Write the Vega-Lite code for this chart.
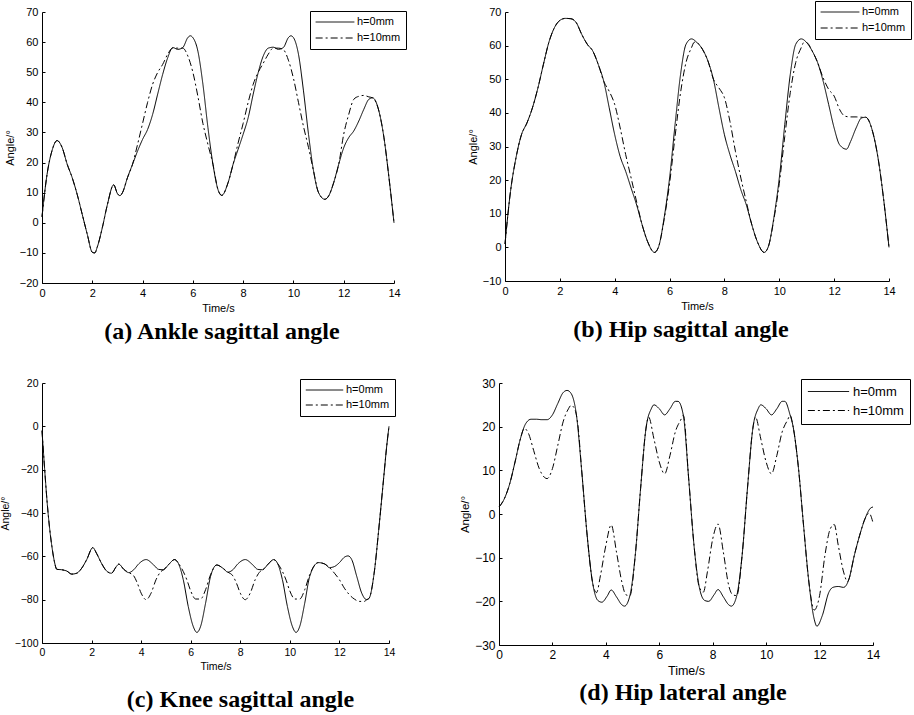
{
  "$schema": "https://vega.github.io/schema/vega-lite/v6.json",
  "background": "white",
  "padding": {"left": 0, "top": 0, "right": 0, "bottom": 0},
  "config": {
    "view": {"stroke": null},
    "axis": {"domainColor": "black", "tickColor": "black", "labelColor": "black", "titleColor": "black", "labelFont": "Liberation Sans", "titleFont": "Liberation Sans", "grid": false, "tickSize": -3, "labelFontSize": 11, "titleFontSize": 11, "titleFontWeight": "normal", "domainWidth": 1, "tickWidth": 1, "labelPadding": 7, "titlePadding": 4, "labelFlush": false, "labelOverlap": false},
    "legend": {"title": null, "strokeColor": "black", "fillColor": "white", "padding": 5, "symbolType": "stroke", "symbolSize": 1500, "symbolStrokeWidth": 1, "symbolStrokeColor": "black", "labelFont": "Liberation Sans", "labelFontSize": 11, "labelColor": "black", "labelOffset": 2, "rowPadding": 4, "clipHeight": 12},
    "title": {"font": "Liberation Serif", "fontSize": 24, "fontWeight": "bold", "color": "black", "orient": "bottom", "frame": "group", "anchor": "middle"}
  },
  "resolve": {"scale": {"strokeDash": "independent"}, "legend": {"strokeDash": "independent"}},
  "spacing": 33,
  "datasets": {
    "a": [
      {"s":"h=0mm","t":0,"v":2},{"s":"h=0mm","t":0.2,"v":16},{"s":"h=0mm","t":0.4,"v":24},{"s":"h=0mm","t":0.6,"v":27.3},{"s":"h=0mm","t":0.8,"v":25},{"s":"h=0mm","t":1,"v":19.5},{"s":"h=0mm","t":1.2,"v":15},{"s":"h=0mm","t":1.4,"v":9.4},{"s":"h=0mm","t":1.6,"v":2.8},{"s":"h=0mm","t":1.8,"v":-3.8},{"s":"h=0mm","t":2,"v":-9.8},{"s":"h=0mm","t":2.1,"v":-10},{"s":"h=0mm","t":2.2,"v":-8},{"s":"h=0mm","t":2.4,"v":-1.6},{"s":"h=0mm","t":2.6,"v":6},{"s":"h=0mm","t":2.85,"v":12.6},{"s":"h=0mm","t":3,"v":9.7},{"s":"h=0mm","t":3.1,"v":9},{"s":"h=0mm","t":3.2,"v":10},{"s":"h=0mm","t":3.4,"v":15},{"s":"h=0mm","t":3.6,"v":19.4},{"s":"h=0mm","t":3.8,"v":23.8},{"s":"h=0mm","t":4,"v":27.7},{"s":"h=0mm","t":4.2,"v":31},{"s":"h=0mm","t":4.4,"v":36},{"s":"h=0mm","t":4.6,"v":42.7},{"s":"h=0mm","t":4.8,"v":49.3},{"s":"h=0mm","t":5,"v":54.8},{"s":"h=0mm","t":5.2,"v":58.2},{"s":"h=0mm","t":5.4,"v":57.6},{"s":"h=0mm","t":5.6,"v":58.2},{"s":"h=0mm","t":5.8,"v":61.5},{"s":"h=0mm","t":5.9,"v":62.1},{"s":"h=0mm","t":6,"v":61.5},{"s":"h=0mm","t":6.2,"v":57},{"s":"h=0mm","t":6.4,"v":46},{"s":"h=0mm","t":6.6,"v":31.6},{"s":"h=0mm","t":6.8,"v":19.4},{"s":"h=0mm","t":7,"v":11},{"s":"h=0mm","t":7.15,"v":9.1},{"s":"h=0mm","t":7.4,"v":13.3},{"s":"h=0mm","t":7.6,"v":19.4},{"s":"h=0mm","t":7.8,"v":24.4},{"s":"h=0mm","t":8,"v":29.4},{"s":"h=0mm","t":8.2,"v":34.9},{"s":"h=0mm","t":8.4,"v":42.7},{"s":"h=0mm","t":8.6,"v":49.9},{"s":"h=0mm","t":8.8,"v":55.4},{"s":"h=0mm","t":9,"v":58},{"s":"h=0mm","t":9.2,"v":58.3},{"s":"h=0mm","t":9.4,"v":57.6},{"s":"h=0mm","t":9.6,"v":58.2},{"s":"h=0mm","t":9.8,"v":61.5},{"s":"h=0mm","t":9.9,"v":62.1},{"s":"h=0mm","t":10,"v":61.5},{"s":"h=0mm","t":10.2,"v":56},{"s":"h=0mm","t":10.4,"v":43.8},{"s":"h=0mm","t":10.6,"v":29.4},{"s":"h=0mm","t":10.8,"v":17.2},{"s":"h=0mm","t":11,"v":10},{"s":"h=0mm","t":11.25,"v":7.8},{"s":"h=0mm","t":11.4,"v":8.9},{"s":"h=0mm","t":11.6,"v":13.3},{"s":"h=0mm","t":11.8,"v":19.4},{"s":"h=0mm","t":12,"v":24.9},{"s":"h=0mm","t":12.2,"v":28.3},{"s":"h=0mm","t":12.4,"v":30.5},{"s":"h=0mm","t":12.6,"v":33.8},{"s":"h=0mm","t":12.8,"v":37.7},{"s":"h=0mm","t":13,"v":41},{"s":"h=0mm","t":13.15,"v":41.5},{"s":"h=0mm","t":13.4,"v":37.1},{"s":"h=0mm","t":13.6,"v":28.3},{"s":"h=0mm","t":13.8,"v":15},{"s":"h=0mm","t":14,"v":0},
      {"s":"h=10mm","t":0,"v":2},{"s":"h=10mm","t":0.2,"v":16},{"s":"h=10mm","t":0.4,"v":24},{"s":"h=10mm","t":0.6,"v":27.3},{"s":"h=10mm","t":0.8,"v":25},{"s":"h=10mm","t":1,"v":19.5},{"s":"h=10mm","t":1.2,"v":15},{"s":"h=10mm","t":1.4,"v":9.4},{"s":"h=10mm","t":1.6,"v":2.8},{"s":"h=10mm","t":1.8,"v":-3.8},{"s":"h=10mm","t":2,"v":-9.8},{"s":"h=10mm","t":2.1,"v":-10},{"s":"h=10mm","t":2.2,"v":-8},{"s":"h=10mm","t":2.4,"v":-1.6},{"s":"h=10mm","t":2.6,"v":6},{"s":"h=10mm","t":2.85,"v":12.6},{"s":"h=10mm","t":3,"v":9.7},{"s":"h=10mm","t":3.1,"v":9},{"s":"h=10mm","t":3.2,"v":10},{"s":"h=10mm","t":3.4,"v":15},{"s":"h=10mm","t":3.6,"v":19.4},{"s":"h=10mm","t":3.8,"v":26},{"s":"h=10mm","t":4,"v":33},{"s":"h=10mm","t":4.2,"v":40},{"s":"h=10mm","t":4.4,"v":46},{"s":"h=10mm","t":4.6,"v":49.9},{"s":"h=10mm","t":4.8,"v":52.6},{"s":"h=10mm","t":5,"v":56},{"s":"h=10mm","t":5.2,"v":58},{"s":"h=10mm","t":5.4,"v":58},{"s":"h=10mm","t":5.6,"v":58},{"s":"h=10mm","t":5.8,"v":55.4},{"s":"h=10mm","t":6,"v":50},{"s":"h=10mm","t":6.2,"v":42},{"s":"h=10mm","t":6.4,"v":33},{"s":"h=10mm","t":6.6,"v":26},{"s":"h=10mm","t":6.8,"v":19.4},{"s":"h=10mm","t":7,"v":11},{"s":"h=10mm","t":7.15,"v":9.1},{"s":"h=10mm","t":7.4,"v":13.3},{"s":"h=10mm","t":7.6,"v":19.4},{"s":"h=10mm","t":7.8,"v":26.5},{"s":"h=10mm","t":8,"v":33},{"s":"h=10mm","t":8.2,"v":40},{"s":"h=10mm","t":8.4,"v":46},{"s":"h=10mm","t":8.6,"v":50},{"s":"h=10mm","t":8.8,"v":53},{"s":"h=10mm","t":9,"v":56},{"s":"h=10mm","t":9.2,"v":58},{"s":"h=10mm","t":9.4,"v":58},{"s":"h=10mm","t":9.6,"v":57.5},{"s":"h=10mm","t":9.8,"v":54},{"s":"h=10mm","t":10,"v":48},{"s":"h=10mm","t":10.2,"v":40},{"s":"h=10mm","t":10.4,"v":32},{"s":"h=10mm","t":10.6,"v":25},{"s":"h=10mm","t":10.8,"v":17.2},{"s":"h=10mm","t":11,"v":10},{"s":"h=10mm","t":11.25,"v":7.8},{"s":"h=10mm","t":11.4,"v":8.9},{"s":"h=10mm","t":11.6,"v":13.3},{"s":"h=10mm","t":11.8,"v":19.4},{"s":"h=10mm","t":12,"v":29.4},{"s":"h=10mm","t":12.2,"v":36},{"s":"h=10mm","t":12.4,"v":41},{"s":"h=10mm","t":12.6,"v":42},{"s":"h=10mm","t":12.8,"v":42.3},{"s":"h=10mm","t":13,"v":41.8},{"s":"h=10mm","t":13.15,"v":41.5},{"s":"h=10mm","t":13.4,"v":37.1},{"s":"h=10mm","t":13.6,"v":28.3},{"s":"h=10mm","t":13.8,"v":15},{"s":"h=10mm","t":14,"v":0}
    ],
    "b": [
      {"s":"h=0mm","t":0,"v":1},{"s":"h=0mm","t":0.2,"v":16.6},{"s":"h=0mm","t":0.4,"v":26.6},{"s":"h=0mm","t":0.6,"v":33.5},{"s":"h=0mm","t":0.8,"v":37},{"s":"h=0mm","t":1,"v":41.5},{"s":"h=0mm","t":1.2,"v":47.4},{"s":"h=0mm","t":1.4,"v":54.4},{"s":"h=0mm","t":1.6,"v":61},{"s":"h=0mm","t":1.8,"v":65.3},{"s":"h=0mm","t":2,"v":67.5},{"s":"h=0mm","t":2.2,"v":68.1},{"s":"h=0mm","t":2.4,"v":68},{"s":"h=0mm","t":2.6,"v":66.8},{"s":"h=0mm","t":2.8,"v":63.3},{"s":"h=0mm","t":3,"v":60.4},{"s":"h=0mm","t":3.2,"v":58.4},{"s":"h=0mm","t":3.4,"v":54.4},{"s":"h=0mm","t":3.6,"v":49.4},{"s":"h=0mm","t":3.8,"v":41.5},{"s":"h=0mm","t":4,"v":33.5},{"s":"h=0mm","t":4.2,"v":27},{"s":"h=0mm","t":4.4,"v":22.6},{"s":"h=0mm","t":4.6,"v":17.6},{"s":"h=0mm","t":4.8,"v":12.6},{"s":"h=0mm","t":5,"v":6.7},{"s":"h=0mm","t":5.2,"v":1.7},{"s":"h=0mm","t":5.45,"v":-1.5},{"s":"h=0mm","t":5.6,"v":0.2},{"s":"h=0mm","t":5.8,"v":8.7},{"s":"h=0mm","t":6,"v":20.6},{"s":"h=0mm","t":6.2,"v":36.5},{"s":"h=0mm","t":6.4,"v":51.4},{"s":"h=0mm","t":6.6,"v":60.4},{"s":"h=0mm","t":6.8,"v":62},{"s":"h=0mm","t":7,"v":60.9},{"s":"h=0mm","t":7.2,"v":58.9},{"s":"h=0mm","t":7.4,"v":55.4},{"s":"h=0mm","t":7.6,"v":49.9},{"s":"h=0mm","t":7.8,"v":41.5},{"s":"h=0mm","t":8,"v":33.5},{"s":"h=0mm","t":8.2,"v":27.6},{"s":"h=0mm","t":8.4,"v":22.6},{"s":"h=0mm","t":8.6,"v":17.1},{"s":"h=0mm","t":8.8,"v":12.6},{"s":"h=0mm","t":9,"v":6.7},{"s":"h=0mm","t":9.2,"v":1.7},{"s":"h=0mm","t":9.45,"v":-1.5},{"s":"h=0mm","t":9.6,"v":0.2},{"s":"h=0mm","t":9.8,"v":8.7},{"s":"h=0mm","t":10,"v":20.6},{"s":"h=0mm","t":10.2,"v":36.5},{"s":"h=0mm","t":10.4,"v":51.4},{"s":"h=0mm","t":10.6,"v":60.4},{"s":"h=0mm","t":10.8,"v":62},{"s":"h=0mm","t":11,"v":60.9},{"s":"h=0mm","t":11.2,"v":58.4},{"s":"h=0mm","t":11.4,"v":54.9},{"s":"h=0mm","t":11.6,"v":49.4},{"s":"h=0mm","t":11.8,"v":42.5},{"s":"h=0mm","t":12,"v":35.5},{"s":"h=0mm","t":12.2,"v":30.5},{"s":"h=0mm","t":12.45,"v":29.2},{"s":"h=0mm","t":12.6,"v":31.5},{"s":"h=0mm","t":12.8,"v":35.5},{"s":"h=0mm","t":13,"v":38.5},{"s":"h=0mm","t":13.15,"v":38.7},{"s":"h=0mm","t":13.4,"v":34.5},{"s":"h=0mm","t":13.6,"v":26.6},{"s":"h=0mm","t":13.8,"v":14.6},{"s":"h=0mm","t":14,"v":0},
      {"s":"h=10mm","t":0,"v":1},{"s":"h=10mm","t":0.2,"v":16.6},{"s":"h=10mm","t":0.4,"v":26.6},{"s":"h=10mm","t":0.6,"v":33.5},{"s":"h=10mm","t":0.8,"v":37},{"s":"h=10mm","t":1,"v":41.5},{"s":"h=10mm","t":1.2,"v":47.4},{"s":"h=10mm","t":1.4,"v":54.4},{"s":"h=10mm","t":1.6,"v":61},{"s":"h=10mm","t":1.8,"v":65.3},{"s":"h=10mm","t":2,"v":67.5},{"s":"h=10mm","t":2.2,"v":68.1},{"s":"h=10mm","t":2.4,"v":68},{"s":"h=10mm","t":2.6,"v":66.8},{"s":"h=10mm","t":2.8,"v":63.3},{"s":"h=10mm","t":3,"v":60.4},{"s":"h=10mm","t":3.2,"v":58.4},{"s":"h=10mm","t":3.4,"v":54.4},{"s":"h=10mm","t":3.6,"v":49.4},{"s":"h=10mm","t":3.8,"v":46.4},{"s":"h=10mm","t":4,"v":42.5},{"s":"h=10mm","t":4.2,"v":35.5},{"s":"h=10mm","t":4.4,"v":27.6},{"s":"h=10mm","t":4.6,"v":20.6},{"s":"h=10mm","t":4.8,"v":13.5},{"s":"h=10mm","t":5,"v":6.7},{"s":"h=10mm","t":5.2,"v":1.7},{"s":"h=10mm","t":5.45,"v":-1.5},{"s":"h=10mm","t":5.6,"v":0.2},{"s":"h=10mm","t":5.8,"v":8.2},{"s":"h=10mm","t":6,"v":19},{"s":"h=10mm","t":6.2,"v":33},{"s":"h=10mm","t":6.4,"v":46},{"s":"h=10mm","t":6.6,"v":55},{"s":"h=10mm","t":6.8,"v":59.4},{"s":"h=10mm","t":6.9,"v":61},{"s":"h=10mm","t":7,"v":60.9},{"s":"h=10mm","t":7.2,"v":58.9},{"s":"h=10mm","t":7.4,"v":55.4},{"s":"h=10mm","t":7.6,"v":50},{"s":"h=10mm","t":7.8,"v":47.4},{"s":"h=10mm","t":8,"v":44.5},{"s":"h=10mm","t":8.2,"v":37.5},{"s":"h=10mm","t":8.4,"v":28.6},{"s":"h=10mm","t":8.6,"v":20.6},{"s":"h=10mm","t":8.8,"v":13.5},{"s":"h=10mm","t":9,"v":6.7},{"s":"h=10mm","t":9.2,"v":1.7},{"s":"h=10mm","t":9.45,"v":-1.5},{"s":"h=10mm","t":9.6,"v":0.2},{"s":"h=10mm","t":9.8,"v":8.2},{"s":"h=10mm","t":10,"v":19},{"s":"h=10mm","t":10.2,"v":33},{"s":"h=10mm","t":10.4,"v":46},{"s":"h=10mm","t":10.6,"v":55},{"s":"h=10mm","t":10.8,"v":59.4},{"s":"h=10mm","t":10.9,"v":61},{"s":"h=10mm","t":11,"v":60.9},{"s":"h=10mm","t":11.2,"v":58.4},{"s":"h=10mm","t":11.4,"v":54.9},{"s":"h=10mm","t":11.6,"v":50.4},{"s":"h=10mm","t":11.8,"v":47},{"s":"h=10mm","t":12,"v":45},{"s":"h=10mm","t":12.2,"v":41},{"s":"h=10mm","t":12.4,"v":39},{"s":"h=10mm","t":12.6,"v":38.8},{"s":"h=10mm","t":12.8,"v":38.8},{"s":"h=10mm","t":13,"v":38.7},{"s":"h=10mm","t":13.15,"v":38.7},{"s":"h=10mm","t":13.4,"v":34.5},{"s":"h=10mm","t":13.6,"v":26.6},{"s":"h=10mm","t":13.8,"v":14.6},{"s":"h=10mm","t":14,"v":0}
    ],
    "c": [
      {"s":"h=0mm","t":0,"v":-2},{"s":"h=0mm","t":0.1,"v":-18.7},{"s":"h=0mm","t":0.2,"v":-34},{"s":"h=0mm","t":0.3,"v":-46.3},{"s":"h=0mm","t":0.4,"v":-55.5},{"s":"h=0mm","t":0.5,"v":-62.4},{"s":"h=0mm","t":0.6,"v":-66},{"s":"h=0mm","t":0.8,"v":-66.2},{"s":"h=0mm","t":1,"v":-66.8},{"s":"h=0mm","t":1.2,"v":-68.2},{"s":"h=0mm","t":1.4,"v":-67.8},{"s":"h=0mm","t":1.6,"v":-65.5},{"s":"h=0mm","t":1.8,"v":-61.6},{"s":"h=0mm","t":2.05,"v":-56},{"s":"h=0mm","t":2.2,"v":-58.6},{"s":"h=0mm","t":2.4,"v":-63.2},{"s":"h=0mm","t":2.6,"v":-66.7},{"s":"h=0mm","t":2.8,"v":-67.8},{"s":"h=0mm","t":3,"v":-64.7},{"s":"h=0mm","t":3.1,"v":-63.6},{"s":"h=0mm","t":3.3,"v":-66},{"s":"h=0mm","t":3.5,"v":-67.5},{"s":"h=0mm","t":3.7,"v":-66.2},{"s":"h=0mm","t":3.9,"v":-63.5},{"s":"h=0mm","t":4.2,"v":-61.5},{"s":"h=0mm","t":4.5,"v":-63.9},{"s":"h=0mm","t":4.7,"v":-66},{"s":"h=0mm","t":4.9,"v":-66.2},{"s":"h=0mm","t":5.1,"v":-63.9},{"s":"h=0mm","t":5.35,"v":-61.5},{"s":"h=0mm","t":5.5,"v":-63.2},{"s":"h=0mm","t":5.7,"v":-70.8},{"s":"h=0mm","t":5.9,"v":-83.1},{"s":"h=0mm","t":6.1,"v":-92.3},{"s":"h=0mm","t":6.25,"v":-95.1},{"s":"h=0mm","t":6.4,"v":-92.3},{"s":"h=0mm","t":6.6,"v":-81.6},{"s":"h=0mm","t":6.8,"v":-69.3},{"s":"h=0mm","t":7.05,"v":-64},{"s":"h=0mm","t":7.3,"v":-65.5},{"s":"h=0mm","t":7.5,"v":-67.3},{"s":"h=0mm","t":7.7,"v":-66.2},{"s":"h=0mm","t":7.9,"v":-63.5},{"s":"h=0mm","t":8.2,"v":-61.5},{"s":"h=0mm","t":8.5,"v":-63.9},{"s":"h=0mm","t":8.7,"v":-66},{"s":"h=0mm","t":8.9,"v":-66.2},{"s":"h=0mm","t":9.1,"v":-63.9},{"s":"h=0mm","t":9.35,"v":-61.5},{"s":"h=0mm","t":9.5,"v":-63.2},{"s":"h=0mm","t":9.7,"v":-70.8},{"s":"h=0mm","t":9.9,"v":-83.1},{"s":"h=0mm","t":10.1,"v":-92.3},{"s":"h=0mm","t":10.25,"v":-95.1},{"s":"h=0mm","t":10.4,"v":-92.3},{"s":"h=0mm","t":10.6,"v":-81.6},{"s":"h=0mm","t":10.8,"v":-69.3},{"s":"h=0mm","t":11.15,"v":-62.9},{"s":"h=0mm","t":11.4,"v":-63.5},{"s":"h=0mm","t":11.6,"v":-65.2},{"s":"h=0mm","t":11.8,"v":-64.7},{"s":"h=0mm","t":12,"v":-62.9},{"s":"h=0mm","t":12.2,"v":-60.4},{"s":"h=0mm","t":12.35,"v":-59.8},{"s":"h=0mm","t":12.5,"v":-61.6},{"s":"h=0mm","t":12.7,"v":-69.3},{"s":"h=0mm","t":12.9,"v":-77},{"s":"h=0mm","t":13.1,"v":-80},{"s":"h=0mm","t":13.2,"v":-79.3},{"s":"h=0mm","t":13.4,"v":-67.8},{"s":"h=0mm","t":13.6,"v":-46},{"s":"h=0mm","t":13.8,"v":-22},{"s":"h=0mm","t":13.9,"v":-10},{"s":"h=0mm","t":14,"v":0},
      {"s":"h=10mm","t":0,"v":-2},{"s":"h=10mm","t":0.1,"v":-18.7},{"s":"h=10mm","t":0.2,"v":-34},{"s":"h=10mm","t":0.3,"v":-46.3},{"s":"h=10mm","t":0.4,"v":-55.5},{"s":"h=10mm","t":0.5,"v":-62.4},{"s":"h=10mm","t":0.6,"v":-66},{"s":"h=10mm","t":0.8,"v":-66.2},{"s":"h=10mm","t":1,"v":-66.8},{"s":"h=10mm","t":1.2,"v":-68.2},{"s":"h=10mm","t":1.4,"v":-67.8},{"s":"h=10mm","t":1.6,"v":-65.5},{"s":"h=10mm","t":1.8,"v":-61.6},{"s":"h=10mm","t":2.05,"v":-56},{"s":"h=10mm","t":2.2,"v":-58.6},{"s":"h=10mm","t":2.4,"v":-63.2},{"s":"h=10mm","t":2.6,"v":-66.7},{"s":"h=10mm","t":2.8,"v":-67.8},{"s":"h=10mm","t":3,"v":-64.7},{"s":"h=10mm","t":3.1,"v":-63.6},{"s":"h=10mm","t":3.3,"v":-66},{"s":"h=10mm","t":3.5,"v":-67.5},{"s":"h=10mm","t":3.7,"v":-69},{"s":"h=10mm","t":3.85,"v":-72.5},{"s":"h=10mm","t":4,"v":-77},{"s":"h=10mm","t":4.2,"v":-80},{"s":"h=10mm","t":4.4,"v":-77},{"s":"h=10mm","t":4.6,"v":-70.8},{"s":"h=10mm","t":4.8,"v":-67},{"s":"h=10mm","t":4.9,"v":-66.2},{"s":"h=10mm","t":5.1,"v":-63.9},{"s":"h=10mm","t":5.35,"v":-61.5},{"s":"h=10mm","t":5.5,"v":-63.2},{"s":"h=10mm","t":5.7,"v":-67},{"s":"h=10mm","t":5.85,"v":-71},{"s":"h=10mm","t":6,"v":-76},{"s":"h=10mm","t":6.2,"v":-79.7},{"s":"h=10mm","t":6.4,"v":-79.7},{"s":"h=10mm","t":6.6,"v":-75.4},{"s":"h=10mm","t":6.8,"v":-68.5},{"s":"h=10mm","t":7.05,"v":-64},{"s":"h=10mm","t":7.3,"v":-65.5},{"s":"h=10mm","t":7.5,"v":-67.3},{"s":"h=10mm","t":7.7,"v":-69},{"s":"h=10mm","t":7.85,"v":-72.5},{"s":"h=10mm","t":8,"v":-77},{"s":"h=10mm","t":8.2,"v":-80},{"s":"h=10mm","t":8.4,"v":-77},{"s":"h=10mm","t":8.6,"v":-70.8},{"s":"h=10mm","t":8.8,"v":-67},{"s":"h=10mm","t":8.9,"v":-66.2},{"s":"h=10mm","t":9.1,"v":-63.9},{"s":"h=10mm","t":9.35,"v":-61.5},{"s":"h=10mm","t":9.5,"v":-63.2},{"s":"h=10mm","t":9.7,"v":-67},{"s":"h=10mm","t":9.85,"v":-71},{"s":"h=10mm","t":10,"v":-76},{"s":"h=10mm","t":10.2,"v":-79.7},{"s":"h=10mm","t":10.4,"v":-79.7},{"s":"h=10mm","t":10.6,"v":-75.4},{"s":"h=10mm","t":10.8,"v":-68.5},{"s":"h=10mm","t":11.15,"v":-62.9},{"s":"h=10mm","t":11.4,"v":-63.5},{"s":"h=10mm","t":11.6,"v":-65.2},{"s":"h=10mm","t":11.8,"v":-67.8},{"s":"h=10mm","t":12,"v":-70.8},{"s":"h=10mm","t":12.2,"v":-74.7},{"s":"h=10mm","t":12.4,"v":-77.7},{"s":"h=10mm","t":12.6,"v":-79.7},{"s":"h=10mm","t":12.8,"v":-80.8},{"s":"h=10mm","t":13,"v":-80.8},{"s":"h=10mm","t":13.1,"v":-80},{"s":"h=10mm","t":13.2,"v":-79.3},{"s":"h=10mm","t":13.4,"v":-67.8},{"s":"h=10mm","t":13.6,"v":-46},{"s":"h=10mm","t":13.8,"v":-22},{"s":"h=10mm","t":13.9,"v":-10},{"s":"h=10mm","t":14,"v":0}
    ],
    "d": [
      {"s":"h=0mm","t":0,"v":1.6},{"s":"h=0mm","t":0.2,"v":3.5},{"s":"h=0mm","t":0.4,"v":6.9},{"s":"h=0mm","t":0.6,"v":11.9},{"s":"h=0mm","t":0.8,"v":17.2},{"s":"h=0mm","t":1,"v":20.7},{"s":"h=0mm","t":1.2,"v":21.7},{"s":"h=0mm","t":1.4,"v":21.7},{"s":"h=0mm","t":1.6,"v":21.6},{"s":"h=0mm","t":1.8,"v":21.6},{"s":"h=0mm","t":2,"v":22.7},{"s":"h=0mm","t":2.2,"v":25.3},{"s":"h=0mm","t":2.4,"v":27.8},{"s":"h=0mm","t":2.55,"v":28.3},{"s":"h=0mm","t":2.7,"v":27.6},{"s":"h=0mm","t":2.9,"v":22.6},{"s":"h=0mm","t":3.1,"v":9.6},{"s":"h=0mm","t":3.3,"v":-4.9},{"s":"h=0mm","t":3.5,"v":-15.6},{"s":"h=0mm","t":3.7,"v":-19.8},{"s":"h=0mm","t":3.85,"v":-20.2},{"s":"h=0mm","t":4.05,"v":-18.8},{"s":"h=0mm","t":4.2,"v":-17.4},{"s":"h=0mm","t":4.4,"v":-19},{"s":"h=0mm","t":4.6,"v":-20.8},{"s":"h=0mm","t":4.7,"v":-21.1},{"s":"h=0mm","t":4.9,"v":-18.7},{"s":"h=0mm","t":5.1,"v":-9.5},{"s":"h=0mm","t":5.3,"v":5.8},{"s":"h=0mm","t":5.5,"v":19.5},{"s":"h=0mm","t":5.7,"v":24.1},{"s":"h=0mm","t":5.8,"v":25},{"s":"h=0mm","t":6,"v":24.1},{"s":"h=0mm","t":6.2,"v":22.7},{"s":"h=0mm","t":6.4,"v":24.1},{"s":"h=0mm","t":6.6,"v":25.8},{"s":"h=0mm","t":6.7,"v":25.8},{"s":"h=0mm","t":6.9,"v":22.6},{"s":"h=0mm","t":7.1,"v":8.1},{"s":"h=0mm","t":7.3,"v":-7.2},{"s":"h=0mm","t":7.5,"v":-16.8},{"s":"h=0mm","t":7.7,"v":-19.8},{"s":"h=0mm","t":7.85,"v":-20},{"s":"h=0mm","t":8.05,"v":-18.5},{"s":"h=0mm","t":8.2,"v":-17.3},{"s":"h=0mm","t":8.4,"v":-19},{"s":"h=0mm","t":8.6,"v":-20.8},{"s":"h=0mm","t":8.7,"v":-21.1},{"s":"h=0mm","t":8.9,"v":-18.7},{"s":"h=0mm","t":9.1,"v":-9.5},{"s":"h=0mm","t":9.3,"v":5.8},{"s":"h=0mm","t":9.5,"v":19.5},{"s":"h=0mm","t":9.7,"v":24.1},{"s":"h=0mm","t":9.8,"v":25},{"s":"h=0mm","t":10,"v":24.1},{"s":"h=0mm","t":10.2,"v":22.7},{"s":"h=0mm","t":10.4,"v":24.1},{"s":"h=0mm","t":10.6,"v":25.8},{"s":"h=0mm","t":10.7,"v":25.8},{"s":"h=0mm","t":10.9,"v":22.6},{"s":"h=0mm","t":11,"v":20.3},{"s":"h=0mm","t":11.2,"v":11.1},{"s":"h=0mm","t":11.4,"v":-2.6},{"s":"h=0mm","t":11.6,"v":-15.6},{"s":"h=0mm","t":11.8,"v":-24.1},{"s":"h=0mm","t":11.9,"v":-25.7},{"s":"h=0mm","t":12.1,"v":-23.3},{"s":"h=0mm","t":12.35,"v":-17.9},{"s":"h=0mm","t":12.5,"v":-16.8},{"s":"h=0mm","t":12.7,"v":-16.6},{"s":"h=0mm","t":12.9,"v":-16.8},{"s":"h=0mm","t":13.1,"v":-14.9},{"s":"h=0mm","t":13.3,"v":-9.5},{"s":"h=0mm","t":13.5,"v":-4.9},{"s":"h=0mm","t":13.7,"v":-1.1},{"s":"h=0mm","t":13.9,"v":1.3},{"s":"h=0mm","t":14,"v":1.6},
      {"s":"h=10mm","t":0,"v":1.6},{"s":"h=10mm","t":0.2,"v":3.5},{"s":"h=10mm","t":0.4,"v":6.9},{"s":"h=10mm","t":0.6,"v":11.9},{"s":"h=10mm","t":0.8,"v":17.2},{"s":"h=10mm","t":0.95,"v":19.6},{"s":"h=10mm","t":1.1,"v":18.5},{"s":"h=10mm","t":1.3,"v":14.5},{"s":"h=10mm","t":1.5,"v":10.5},{"s":"h=10mm","t":1.7,"v":8.4},{"s":"h=10mm","t":1.8,"v":8.1},{"s":"h=10mm","t":2,"v":10.4},{"s":"h=10mm","t":2.2,"v":15.7},{"s":"h=10mm","t":2.4,"v":21.1},{"s":"h=10mm","t":2.6,"v":24.1},{"s":"h=10mm","t":2.7,"v":24.9},{"s":"h=10mm","t":2.85,"v":23.8},{"s":"h=10mm","t":2.95,"v":20.5},{"s":"h=10mm","t":3.1,"v":9.6},{"s":"h=10mm","t":3.3,"v":-4.9},{"s":"h=10mm","t":3.5,"v":-15.6},{"s":"h=10mm","t":3.65,"v":-18},{"s":"h=10mm","t":3.8,"v":-14},{"s":"h=10mm","t":4,"v":-7.2},{"s":"h=10mm","t":4.2,"v":-2.5},{"s":"h=10mm","t":4.4,"v":-8.8},{"s":"h=10mm","t":4.6,"v":-15.6},{"s":"h=10mm","t":4.75,"v":-18.5},{"s":"h=10mm","t":4.9,"v":-18.7},{"s":"h=10mm","t":5.1,"v":-9.5},{"s":"h=10mm","t":5.3,"v":5.8},{"s":"h=10mm","t":5.5,"v":19.5},{"s":"h=10mm","t":5.6,"v":22.2},{"s":"h=10mm","t":5.8,"v":17.2},{"s":"h=10mm","t":6,"v":11.9},{"s":"h=10mm","t":6.2,"v":9.2},{"s":"h=10mm","t":6.4,"v":13.4},{"s":"h=10mm","t":6.6,"v":18.8},{"s":"h=10mm","t":6.8,"v":21.5},{"s":"h=10mm","t":6.9,"v":22.6},{"s":"h=10mm","t":7.1,"v":8.1},{"s":"h=10mm","t":7.3,"v":-7.2},{"s":"h=10mm","t":7.5,"v":-16.8},{"s":"h=10mm","t":7.65,"v":-17.9},{"s":"h=10mm","t":7.8,"v":-13.3},{"s":"h=10mm","t":8,"v":-5.7},{"s":"h=10mm","t":8.2,"v":-2.3},{"s":"h=10mm","t":8.4,"v":-8.8},{"s":"h=10mm","t":8.6,"v":-16.4},{"s":"h=10mm","t":8.75,"v":-18.5},{"s":"h=10mm","t":8.9,"v":-18.7},{"s":"h=10mm","t":9.1,"v":-9.5},{"s":"h=10mm","t":9.3,"v":5.8},{"s":"h=10mm","t":9.5,"v":19.5},{"s":"h=10mm","t":9.6,"v":22.2},{"s":"h=10mm","t":9.8,"v":17.2},{"s":"h=10mm","t":10,"v":11.9},{"s":"h=10mm","t":10.2,"v":9.2},{"s":"h=10mm","t":10.4,"v":13.4},{"s":"h=10mm","t":10.6,"v":18.8},{"s":"h=10mm","t":10.8,"v":21.5},{"s":"h=10mm","t":10.9,"v":22.6},{"s":"h=10mm","t":11,"v":20.3},{"s":"h=10mm","t":11.2,"v":11.1},{"s":"h=10mm","t":11.4,"v":-2.6},{"s":"h=10mm","t":11.6,"v":-15.6},{"s":"h=10mm","t":11.8,"v":-22},{"s":"h=10mm","t":12,"v":-18.7},{"s":"h=10mm","t":12.2,"v":-9.5},{"s":"h=10mm","t":12.4,"v":-3.4},{"s":"h=10mm","t":12.55,"v":-2.4},{"s":"h=10mm","t":12.7,"v":-7.2},{"s":"h=10mm","t":12.9,"v":-13.3},{"s":"h=10mm","t":13.05,"v":-15.5},{"s":"h=10mm","t":13.1,"v":-14.9},{"s":"h=10mm","t":13.3,"v":-9.5},{"s":"h=10mm","t":13.5,"v":-4.9},{"s":"h=10mm","t":13.7,"v":-1.1},{"s":"h=10mm","t":13.85,"v":0.2},{"s":"h=10mm","t":14,"v":-2}
    ]
  },
  "vconcat": [
    {
      "spacing": 60,
      "resolve": {"scale": {"strokeDash": "independent"}, "legend": {"strokeDash": "independent"}},
      "hconcat": [
        {
          "width": 352, "height": 271,
          "data": {"name": "a"},
          "title": {"text": "(a) Ankle sagittal angle", "offset": 7, "dx": 4},
          "mark": {"type": "line", "interpolate": "monotone", "color": "black", "strokeWidth": 1},
          "encoding": {
            "x": {"field": "t", "type": "quantitative", "scale": {"domain": [0, 14], "nice": false}, "axis": {"values": [0, 2, 4, 6, 8, 10, 12, 14], "title": "Time/s"}},
            "y": {"field": "v", "type": "quantitative", "scale": {"domain": [-20, 70], "nice": false, "zero": false}, "axis": {"values": [-20, -10, 0, 10, 20, 30, 40, 50, 60, 70], "title": "Angle/°"}},
            "strokeDash": {"field": "s", "type": "nominal", "scale": {"domain": ["h=0mm", "h=10mm"], "range": [[1, 0], [7, 3, 2, 3]]}, "legend": {"orient": "none", "legendX": 268, "legendY": -1}}
          }
        },
        {
          "width": 384, "height": 269,
          "data": {"name": "b"},
          "title": {"text": "(b) Hip sagittal angle", "offset": 7, "dx": -16},
          "mark": {"type": "line", "interpolate": "monotone", "color": "black", "strokeWidth": 1},
          "encoding": {
            "x": {"field": "t", "type": "quantitative", "scale": {"domain": [0, 14], "nice": false}, "axis": {"values": [0, 2, 4, 6, 8, 10, 12, 14], "title": "Time/s"}},
            "y": {"field": "v", "type": "quantitative", "scale": {"domain": [-10, 70], "nice": false, "zero": false}, "axis": {"values": [-10, 0, 10, 20, 30, 40, 50, 60, 70], "title": "Angle/°"}},
            "strokeDash": {"field": "s", "type": "nominal", "scale": {"domain": ["h=0mm", "h=10mm"], "range": [[1, 0], [7, 3, 2, 3]]}, "legend": {"orient": "none", "legendX": 310, "legendY": -11}}
          }
        }
      ]
    },
    {
      "spacing": 63,
      "resolve": {"scale": {"strokeDash": "independent"}, "legend": {"strokeDash": "independent"}},
      "hconcat": [
        {
          "width": 347, "height": 260,
          "data": {"name": "c"},
          "title": {"text": "(c) Knee sagittal angle", "offset": 16, "dx": 25},
          "mark": {"type": "line", "interpolate": "monotone", "color": "black", "strokeWidth": 1},
          "encoding": {
            "x": {"field": "t", "type": "quantitative", "scale": {"domain": [0, 14], "nice": false}, "axis": {"values": [0, 2, 4, 6, 8, 10, 12, 14], "title": "Time/s", "labelFontSize": 10.5, "titleFontSize": 10.5}},
            "y": {"field": "v", "type": "quantitative", "scale": {"domain": [-100, 20], "nice": false, "zero": false}, "axis": {"values": [-100, -80, -60, -40, -20, 0, 20], "title": "Angle/°", "labelFontSize": 10.5, "titleFontSize": 10.5}},
            "strokeDash": {"field": "s", "type": "nominal", "scale": {"domain": ["h=0mm", "h=10mm"], "range": [[1, 0], [7, 3, 2, 3]]}, "legend": {"orient": "none", "legendX": 258, "legendY": -4, "rowPadding": 3, "symbolSize": 1400}}
          }
        },
        {
          "width": 374, "height": 262,
          "data": {"name": "d"},
          "title": {"text": "(d) Hip lateral angle", "offset": 4, "dx": -3},
          "mark": {"type": "line", "interpolate": "monotone", "color": "black", "strokeWidth": 1},
          "encoding": {
            "x": {"field": "t", "type": "quantitative", "scale": {"domain": [0, 14], "nice": false}, "axis": {"values": [0, 2, 4, 6, 8, 10, 12, 14], "title": "Time/s", "labelFontSize": 12, "titleFontSize": 12.5}},
            "y": {"field": "v", "type": "quantitative", "scale": {"domain": [-30, 30], "nice": false, "zero": false}, "axis": {"values": [-30, -20, -10, 0, 10, 20, 30], "title": "Angle/°", "labelFontSize": 12, "titleFontSize": 11.5}},
            "strokeDash": {"field": "s", "type": "nominal", "scale": {"domain": ["h=0mm", "h=10mm"], "range": [[1, 0], [7, 3, 2, 3]]}, "legend": {"orient": "none", "legendX": 302, "legendY": -4, "labelFontSize": 13, "symbolSize": 1700, "labelOffset": 3, "padding": 6, "rowPadding": 5, "clipHeight": 13}}
          }
        }
      ]
    }
  ]
}
